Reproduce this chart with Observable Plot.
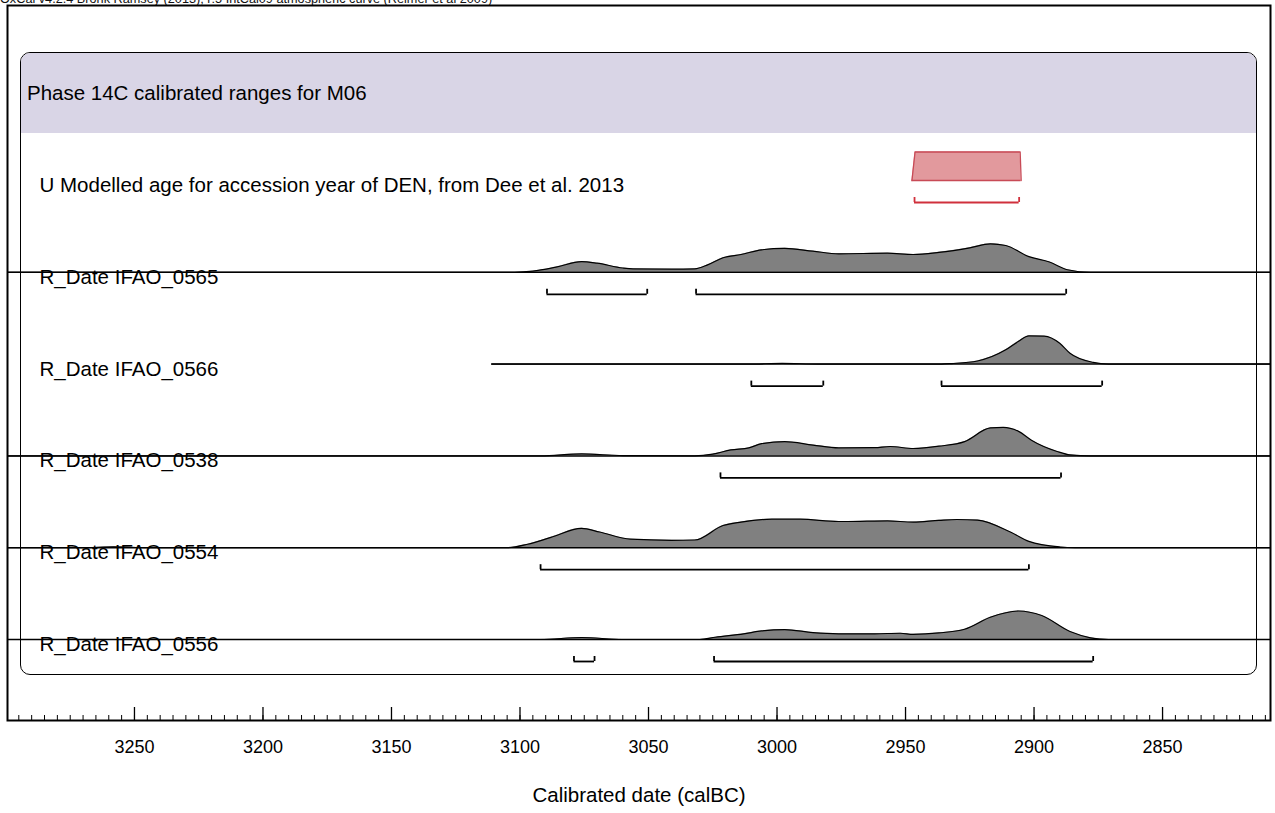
<!DOCTYPE html>
<html><head><meta charset="utf-8">
<script src="https://cdn.jsdelivr.net/npm/d3@7"></script>
<script src="https://cdn.jsdelivr.net/npm/@observablehq/plot@0.6"></script>
<style>
html,body{margin:0;padding:0;background:#fff;overflow:hidden;}
#wrap{position:relative;width:1275px;height:813px;overflow:hidden;font-family:"Liberation Sans",Arial,Helvetica,sans-serif;}
#credit{position:absolute;left:0;top:-8px;font-size:12.7px;line-height:14px;color:#111;white-space:nowrap;}
#box{position:absolute;left:20px;top:52px;width:1235px;height:621px;border:1px solid #000;border-radius:10px;overflow:hidden;}
#hdr{height:80px;background:#d9d5e6;font-size:20.5px;line-height:80px;padding-left:6px;color:#000;}
#chart{position:absolute;left:0;top:0;}
</style></head>
<body>
<div id="wrap">
  <div id="credit">OxCal v4.2.4 Bronk Ramsey (2013); r:5 IntCal09 atmospheric curve (Reimer et al 2009)</div>
  <div id="box"><div id="hdr">Phase 14C calibrated ranges for M06</div></div>
  <div id="chart"></div>
</div>
<script>
// ---- data (years calBC, relative probability 0..1) ----
const rowNames = [
  "U Modelled age for accession year of DEN, from Dee et al. 2013",
  "R_Date IFAO_0565",
  "R_Date IFAO_0566",
  "R_Date IFAO_0538",
  "R_Date IFAO_0554",
  "R_Date IFAO_0556"
];
const uModelled = [[2947.5,0],[2946.3,1],[2905.4,1],[2905,0]];
const ifao0565 = [[3320,0],[3102,0],[3095,0.04],[3086,0.18],[3076,0.375],[3070,0.32],[3060,0.15],[3056,0.12],[3041,0.11],[3032,0.12],[3027,0.26],[3021,0.51],[3014,0.625],[3006,0.79],[2997,0.84],[2986,0.74],[2976,0.65],[2957,0.67],[2947,0.625],[2937,0.70],[2925,0.86],[2917,1.0],[2911,0.94],[2902,0.55],[2894,0.36],[2887,0.09],[2878,0],[2790,0]];
const ifao0566 = [[3111,0],[3011,0],[2998,0.025],[2984,0],[2936,0],[2932,0.02],[2922,0.11],[2911,0.5],[2906,0.8],[2902,0.99],[2896,0.98],[2890,0.73],[2886,0.38],[2877,0.06],[2871,0],[2790,0]];
const ifao0538 = [[3320,0],[3092,0],[3076,0.07],[3060,0.01],[3032,0],[3025,0.06],[3018,0.21],[3011,0.28],[3006,0.43],[2997,0.5],[2986,0.38],[2976,0.28],[2962,0.29],[2956,0.33],[2947,0.26],[2937,0.34],[2927,0.5],[2917,0.98],[2912,1.0],[2906,0.86],[2901,0.55],[2891,0.155],[2886,0.035],[2878,0],[2790,0]];
const ifao0554 = [[3320,0],[3270,0],[3258,0.03],[3245,0],[3105,0],[3097,0.12],[3088,0.36],[3076,0.68],[3069,0.55],[3057,0.3],[3041,0.26],[3032,0.27],[3021,0.78],[3014,0.9],[3002,1.0],[2991,1.0],[2976,0.92],[2965,0.93],[2957,0.94],[2947,0.9],[2937,0.96],[2930,0.99],[2922,0.97],[2909,0.54],[2902,0.22],[2890,0.025],[2884,0],[2790,0]];
const ifao0556 = [[3320,0],[3092,0],[3076,0.07],[3060,0],[3030,0],[3024,0.08],[3013,0.2],[3006,0.3],[2997,0.35],[2986,0.24],[2976,0.2],[2962,0.2],[2952,0.22],[2947,0.18],[2937,0.23],[2927,0.36],[2917,0.78],[2906,1.0],[2897,0.84],[2886,0.28],[2878,0.06],[2871,0],[2790,0]];

// 95.4% ranges (from, to)
const rangesU    = [[2946.5,2905.8]];
const ranges0565 = [[3089.5,3050.5],[3031.5,2887.5]];
const ranges0566 = [[3010,2982],[2936,2873.5]];
const ranges0538 = [[3022,2889.5]];
const ranges0554 = [[3092,2902]];
const ranges0556 = [[3079,3071],[3024.5,2877]];

const majorTicks = [3250,3200,3150,3100,3050,3000,2950,2900,2850];
const minorTicks = d3.range(3295, 2805, -5);
const axisLabel = "Calibrated date (calBC)";

// ---- layout ----
const rowGap = 91.8, peak = 28.5, rangeDrop = 22, capH = 5, labelDrop = 5;
const base = r => -r * rowGap;
const red = "#d0303c", redFill = "#e09498", redLine = "#c84a56";

const rDists = [ifao0565, ifao0566, ifao0538, ifao0554, ifao0556];
const rTable = rDists.flatMap((pts, i) => pts.map(([year, p]) => ({name: rowNames[i+1], row: i+1, year, p})));
const uTable = uModelled.map(([year, p]) => ({row: 0, year, p}));
const extents = rDists.map((pts, i) => ({row: i+1, start: pts[0][0], end: pts[pts.length-1][0]}));

const allRanges = [rangesU, ranges0565, ranges0566, ranges0538, ranges0554, ranges0556];
const rangeTable = allRanges.flatMap((rs, row) => rs.map(([from, to]) => ({row, from, to})));
const blackRanges = rangeTable.filter(d => d.row > 0), redRanges = rangeTable.filter(d => d.row === 0);
const ends = rs => rs.flatMap(d => [{row: d.row, year: d.from}, {row: d.row, year: d.to}]);

const plot = Plot.plot({
  width: 1275, height: 813,
  marginLeft: 7, marginRight: 5, marginTop: 5, marginBottom: 93,
  style: {background: "transparent", fontFamily: "'Liberation Sans', Arial, Helvetica, sans-serif", fontSize: "18px", overflow: "visible", color: "#000"},
  x: {domain: [3299.4, 2808]},
  y: {domain: [-540, 175], axis: null},
  marks: [
    // R_Date distributions
    Plot.area(rTable, {x1: "year", y1: d => base(d.row), y2: d => base(d.row) + d.p * peak, z: "name", fill: "#808080", curve: "monotone-x", clip: true}),
    Plot.ruleY(extents, {x1: "start", x2: "end", y: d => base(d.row), stroke: "#000", strokeWidth: 1.5, clip: true}),
    Plot.line(rTable, {x: "year", y: d => base(d.row) + d.p * peak, z: "name", stroke: "#000", strokeWidth: 1.2, curve: "monotone-x", clip: true}),
    // U modelled age box
    Plot.area(uTable, {x1: "year", y1: d => base(d.row), y2: d => base(d.row) + d.p * peak, fill: redFill, fillOpacity: 0.95}),
    Plot.line(uTable, {x: "year", y: d => base(d.row) + d.p * peak, stroke: redLine, strokeWidth: 1.3}),
    Plot.ruleY([uTable], {x1: d => d[0].year, x2: d => d[d.length-1].year, y: d => base(0), stroke: redLine, strokeWidth: 1.3}),
    // ranges
    Plot.ruleY(blackRanges, {x1: "from", x2: "to", y: d => base(d.row) - rangeDrop, stroke: "#000", strokeWidth: 1.8}),
    Plot.ruleX(ends(blackRanges), {x: "year", y1: d => base(d.row) - rangeDrop, y2: d => base(d.row) - rangeDrop + capH, stroke: "#000", strokeWidth: 1.8}),
    Plot.ruleY(redRanges, {x1: "from", x2: "to", y: d => base(d.row) - rangeDrop, stroke: red, strokeWidth: 1.8}),
    Plot.ruleX(ends(redRanges), {x: "year", y1: d => base(d.row) - rangeDrop, y2: d => base(d.row) - rangeDrop + capH, stroke: red, strokeWidth: 1.8}),
    // row labels
    Plot.text(rowNames.map((name, row) => ({name, row})), {frameAnchor: "left", y: d => base(d.row) - labelDrop, text: "name", dx: 32, textAnchor: "start", fontSize: 20.5, fill: "#000"}),
    // axis
    Plot.axisX(minorTicks, {anchor: "bottom", tickSize: -5, tickFormat: () => "", label: null, strokeWidth: 1}),
    Plot.axisX(majorTicks, {anchor: "bottom", tickSize: -13, tickFormat: () => "", label: null, strokeWidth: 1.3}),
    Plot.axisX(majorTicks, {anchor: "bottom", tickSize: 0, tickPadding: 20, tickFormat: d => String(d), fontSize: 18, label: null}),
    Plot.text([axisLabel], {frameAnchor: "bottom", dy: 81, text: d => d, fontSize: 20.5, fill: "#000"}),
    Plot.frame({stroke: "#000", strokeWidth: 2})
  ]
});
document.getElementById("chart").appendChild(plot);
</script>
</body></html>
